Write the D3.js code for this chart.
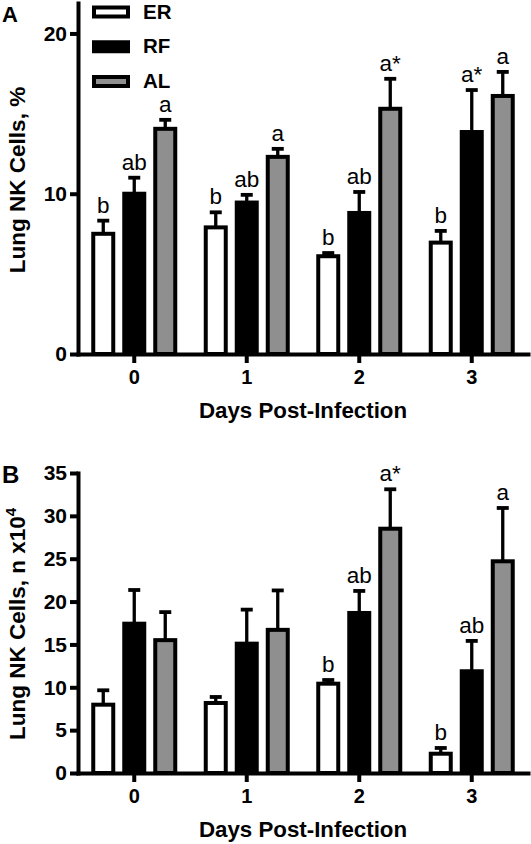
<!DOCTYPE html>
<html><head><meta charset="utf-8">
<script src="https://cdn.jsdelivr.net/npm/d3@7"></script>
<style>
body{margin:0;background:#fff}
svg{display:block}
text{font-family:Arial,"Liberation Sans",Helvetica,sans-serif;fill:#000}
</style>
</head><body>
<svg id="chart" width="531" height="844"></svg>
<script>
// ---- data ----
const days = ["0", "1", "2", "3"];
const series = ["ER", "RF", "AL"];
const seriesColors = ["#ffffff", "#000000", "#8f8f8f"];

// Panel A: Lung NK cells, %
const pctER = [7.5, 7.9, 6.1, 6.95];
const pctRF = [10.0, 9.45, 8.8, 13.85];
const pctAL = [14.05, 12.3, 15.3, 16.1];
const pctErrER = [0.82, 0.94, 0.2, 0.73];
const pctErrRF = [1.0, 0.48, 1.31, 2.62];
const pctErrAL = [0.56, 0.5, 1.87, 1.5];
const pctLabER = ["b", "b", "b", "b"];
const pctLabRF = ["ab", "ab", "ab", "a*"];
const pctLabAL = ["a", "a", "a*", "a"];
const pctTicks = [0, 10, 20];

// Panel B: Lung NK cells, n x10^4
const numER = [7.97, 8.17, 10.42, 2.25];
const numRF = [17.42, 15.09, 18.67, 11.87];
const numAL = [15.5, 16.7, 28.5, 24.7];
const numErrER = [1.68, 0.7, 0.43, 0.67];
const numErrRF = [3.93, 3.97, 2.57, 3.54];
const numErrAL = [3.27, 4.6, 4.6, 6.22];
const numLabER = ["", "", "b", "b"];
const numLabRF = ["", "", "ab", "ab"];
const numLabAL = ["", "", "a*", "a"];
const numTicks = [0, 5, 10, 15, 20, 25, 30, 35];

const svg = d3.select("#chart");
svg.append("rect").attr("width", 531).attr("height", 844).attr("fill", "#fff");

function drawPanel(cfg) {
  const g = svg.append("g");
  const x = d3.scaleBand().domain(days).range([78, 528]).paddingInner(0).paddingOuter(0);
  const xs = d3.scalePoint().domain(series)
    .range([x.bandwidth() / 2 - 31, x.bandwidth() / 2 + 31]);
  const y = d3.scaleLinear().domain([0, cfg.ymax]).range([cfg.y0, cfg.ytop]);
  const barW = 20;

  const rows = [];
  series.forEach((s, si) => {
    days.forEach((d, di) => {
      rows.push({day: d, s, si, v: cfg.vals[si][di], e: cfg.errs[si][di], lab: cfg.labs[si][di]});
    });
  });

  // error bars (behind bars)
  const eb = g.append("g");
  eb.selectAll("line.v").data(rows).join("line")
    .attr("x1", r => x(r.day) + xs(r.s)).attr("x2", r => x(r.day) + xs(r.s))
    .attr("y1", r => y(r.v)).attr("y2", r => y(r.v + r.e))
    .attr("stroke", "#000").attr("stroke-width", 3.3);
  eb.selectAll("line.c").data(rows).join("line")
    .attr("x1", r => x(r.day) + xs(r.s) - 6).attr("x2", r => x(r.day) + xs(r.s) + 6)
    .attr("y1", r => y(r.v + r.e)).attr("y2", r => y(r.v + r.e))
    .attr("stroke", "#000").attr("stroke-width", 3.8);

  // bars
  g.append("g").selectAll("rect").data(rows).join("rect")
    .attr("x", r => x(r.day) + xs(r.s) - barW / 2)
    .attr("width", barW)
    .attr("y", r => y(r.v))
    .attr("height", r => y(0) - y(r.v))
    .attr("fill", r => seriesColors[r.si])
    .attr("stroke", "#000").attr("stroke-width", 4);

  // significance labels
  g.append("g").selectAll("text").data(rows.filter(r => r.lab)).join("text")
    .attr("x", r => x(r.day) + xs(r.s))
    .attr("y", r => y(r.v + r.e) - 8)
    .attr("text-anchor", "middle")
    .attr("font-size", 22.5)
    .text(r => r.lab);

  // y axis
  const ya = g.append("g").attr("transform", "translate(78,0)")
    .call(d3.axisLeft(y).tickValues(cfg.ticks).tickSize(8).tickSizeOuter(0).tickPadding(3).tickFormat(d3.format("d")));
  ya.select(".domain").attr("stroke-width", 4).attr("stroke-linecap", "square");
  ya.selectAll(".tick line").attr("stroke-width", 4);
  ya.selectAll(".tick text").attr("font-size", 21).attr("font-weight", "bold")
    .attr("font-family", "Arial, 'Liberation Sans', sans-serif").attr("fill", "#000");

  // x axis
  const xa = g.append("g").attr("transform", `translate(0,${cfg.y0})`)
    .call(d3.axisBottom(x).tickSize(9).tickSizeOuter(0).tickPadding(7));
  xa.select(".domain").attr("stroke-width", 4).attr("stroke-linecap", "square");
  xa.selectAll(".tick line").attr("stroke-width", 4);
  xa.selectAll(".tick text").attr("font-size", 20).attr("font-weight", "bold")
    .attr("font-family", "Arial, 'Liberation Sans', sans-serif").attr("fill", "#000");

  // x title
  g.append("text").attr("x", 303).attr("y", cfg.y0 + 64)
    .attr("text-anchor", "middle").attr("font-size", 22.3).attr("font-weight", "bold")
    .text("Days Post-Infection");

  // panel letter
  g.append("text").attr("x", 2).attr("y", cfg.letterY)
    .attr("font-size", cfg.letterSize).attr("font-weight", "bold").text(cfg.letter);

  // y title
  const yt = g.append("text")
    .attr("transform", `translate(25,${cfg.titleY}) rotate(-90)`)
    .attr("text-anchor", "middle").attr("font-size", 22.5).attr("font-weight", "bold");
  yt.append("tspan").text(cfg.ytitle);
  if (cfg.sup) yt.append("tspan").attr("dy", -9).attr("font-size", 15).text(cfg.sup);

  return {x, y};
}

drawPanel({
  y0: 354, ytop: 3, ymax: 21.9, ticks: pctTicks,
  vals: [pctER, pctRF, pctAL], errs: [pctErrER, pctErrRF, pctErrAL],
  labs: [pctLabER, pctLabRF, pctLabAL],
  letter: "A", letterY: 22, letterSize: 22,
  ytitle: "Lung NK Cells, %", titleY: 180
});

drawPanel({
  y0: 773, ytop: 473, ymax: 35, ticks: numTicks,
  vals: [numER, numRF, numAL], errs: [numErrER, numErrRF, numErrAL],
  labs: [numLabER, numLabRF, numLabAL],
  letter: "B", letterY: 483, letterSize: 24,
  ytitle: "Lung NK Cells, n x10", sup: "4", titleY: 624
});

// legend (panel A)
const legY = d3.scalePoint().domain(series).range([12, 81.5]);
const leg = svg.append("g");
leg.selectAll("rect").data(series).join("rect")
  .attr("x", 94).attr("y", s => legY(s) - 4.5)
  .attr("width", 34).attr("height", 9)
  .attr("fill", (s, i) => seriesColors[i])
  .attr("stroke", "#000").attr("stroke-width", 4);
leg.selectAll("text").data(series).join("text")
  .attr("x", 143).attr("y", s => legY(s) + 6.5)
  .attr("font-size", 20.5).attr("font-weight", "bold")
  .text(s => s);
</script>
</body></html>
